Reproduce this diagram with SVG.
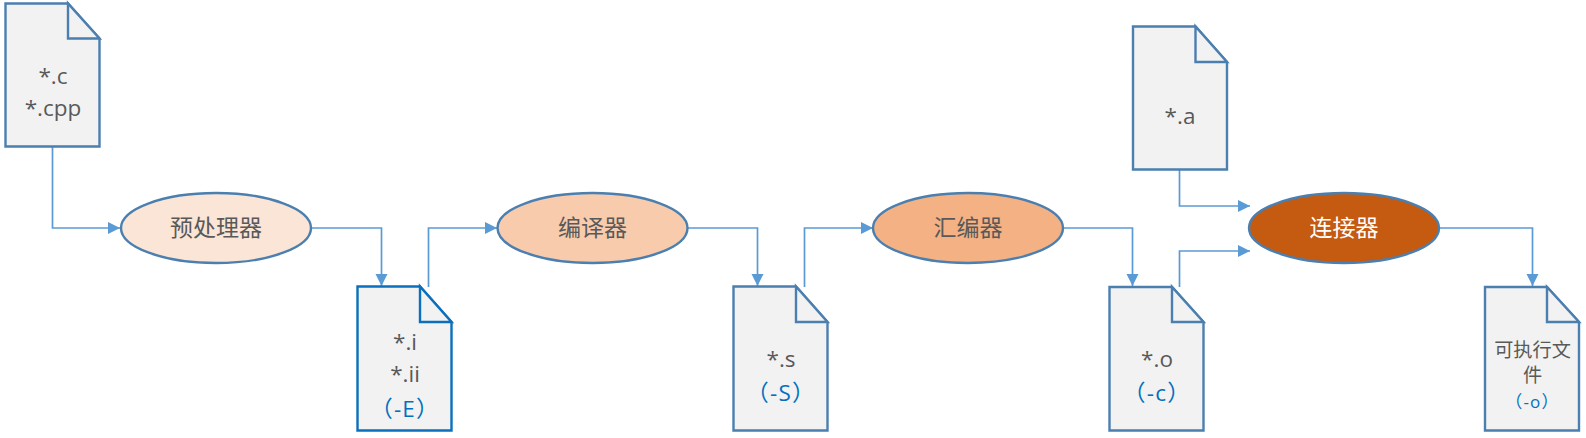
<svg xmlns="http://www.w3.org/2000/svg" width="1586" height="438" viewBox="0 0 1586 438">
<style>
text{font-family:"Open Sans","Noto Sans CJK SC","Liberation Sans",sans-serif;font-size:22.500px;fill:#595959;text-anchor:middle;text-spacing-trim:space-all}
.b{fill:#0070c0;letter-spacing:1.200px}
.n{font-size:23px}
.doc{fill:#f2f2f2;stroke:#4a7fb0;stroke-width:2.400;stroke-linejoin:miter}
.dk{stroke:#0a70bd}
.e{stroke:#4a7fb0;stroke-width:2.400}
.c{fill:none;stroke:#5b9bd5;stroke-width:1.700;marker-end:url(#a)}
</style>
<defs><marker id="a" markerUnits="userSpaceOnUse" markerWidth="13" markerHeight="13" refX="12" refY="6.500" orient="auto"><path d="M0 0.500L12 6.500L0 12.500Z" fill="#5b9bd5"/></marker></defs>
<rect width="1586" height="438" fill="#fff"/>
<g id="connectors">
<path class="c" d="M52.500 146V228H120"/>
<path class="c" d="M311 228H381.500V286"/>
<path class="c" d="M428.500 287V228H497"/>
<path class="c" d="M687.500 228H757.500V286"/>
<path class="c" d="M804.500 287V228H873"/>
<path class="c" d="M1063 228H1132.500V286"/>
<path class="c" d="M1179.500 287V251H1250"/>
<path class="c" d="M1179.500 169V206H1250"/>
<path class="c" d="M1439 228H1532.500V286"/>
</g>
<g id="src"><path class="doc" d="M5.500 3.500H68L99.500 38.500V146.500H5.500Z"/><path class="doc" d="M68 3.500V38.500H99.500Z"/><text x="53" y="84">*.c</text><text x="53" y="116">*.cpp</text></g>
<g id="pre"><ellipse class="e" cx="216" cy="228" rx="95" ry="35" fill="#fbe5d6"/><text class="n" x="216" y="236">预处理器</text></g>
<g id="i"><path class="doc dk" d="M357.500 286.500H420L451.500 322V430.500H357.500Z"/><path class="doc dk" d="M420 286.500V322H451.500Z"/><text x="405" y="350">*.i</text><text x="405" y="382">*.ii</text><text class="b" x="405" y="417">（-E）</text></g>
<g id="cc"><ellipse class="e" cx="592.500" cy="228" rx="95" ry="35" fill="#f8cbad"/><text class="n" x="592.500" y="236">编译器</text></g>
<g id="s"><path class="doc" d="M733.500 286.500H796L827.500 322V430.500H733.500Z"/><path class="doc" d="M796 286.500V322H827.500Z"/><text x="781" y="367">*.s</text><text class="b" x="781" y="401">（-S）</text></g>
<g id="as"><ellipse class="e" cx="968" cy="228" rx="95" ry="35" fill="#f4b183"/><text class="n" x="968" y="236">汇编器</text></g>
<g id="o"><path class="doc" d="M1109.500 287H1172L1203.500 322V430.500H1109.500Z"/><path class="doc" d="M1172 287V322H1203.500Z"/><text x="1157" y="367">*.o</text><text class="b" x="1157" y="401">（-c）</text></g>
<g id="lib"><path class="doc" d="M1133 26.500H1195.500L1227 62V169.500H1133Z"/><path class="doc" d="M1195.500 26.500V62H1227Z"/><text x="1180" y="124">*.a</text></g>
<g id="ld"><ellipse class="e" cx="1344" cy="228" rx="95" ry="35" fill="#c55a11"/><text class="n" x="1344" y="236" style="fill:#fff">连接器</text></g>
<g id="exe"><path class="doc" d="M1485 287H1547L1579 322V430.500H1485Z"/><path class="doc" d="M1547 287V322H1579Z"/><text x="1532.500" y="357" style="font-size:19.200px">可执行文</text><text x="1532.500" y="382" style="font-size:19.200px">件</text><text class="b" x="1532.500" y="408" style="font-size:17px">（-o）</text></g>
</svg>
